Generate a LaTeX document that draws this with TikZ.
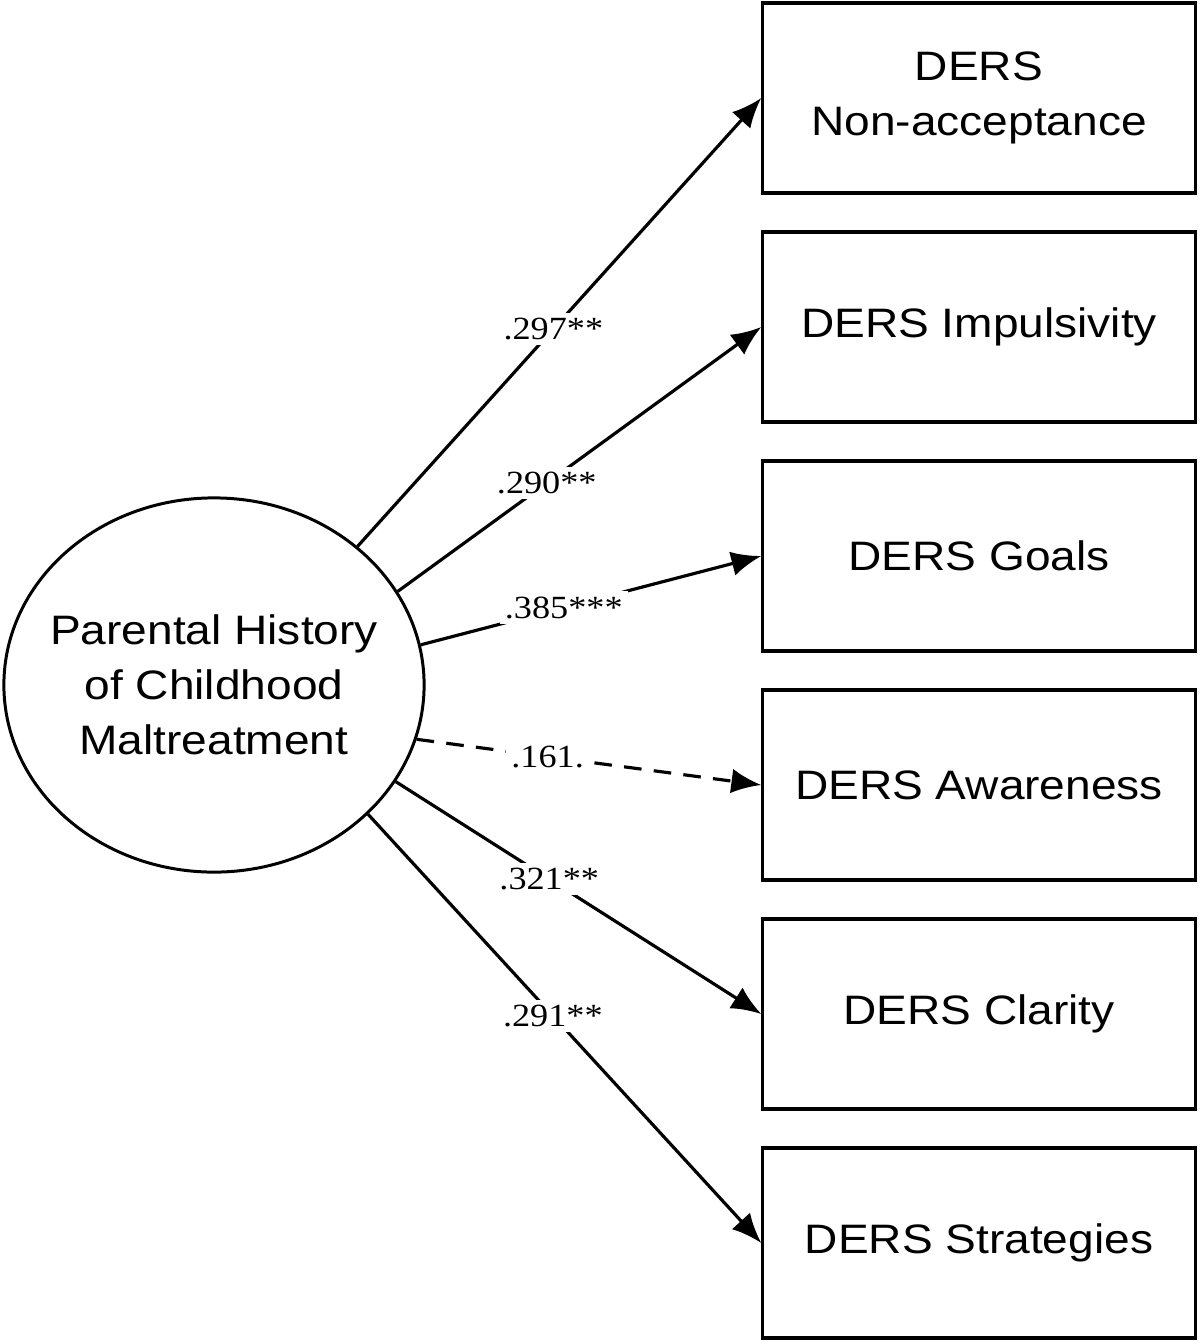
\documentclass[tikz,border=0pt]{standalone}
\usepackage{fontspec}
\setmainfont[FakeStretch=1.12]{Liberation Sans}
\newfontfamily\coeffont[FakeStretch=1.12]{Liberation Serif}
\usetikzlibrary{arrows.meta,shapes.geometric}

\begin{document}
\begin{tikzpicture}[
        x=0.01cm, y=-0.01cm,
        latent/.style={ellipse, draw=black, line width=0.85pt, minimum width=4.2cm, minimum height=3.74cm, inner sep=0pt},
        observed/.style={rectangle, draw=black, line width=0.9pt, minimum width=4.32cm, minimum height=1.9cm, inner sep=0pt, align=center, font=\fontsize{11.7}{15.6}\selectfont},
        effect/.style={line width=0.9pt, -{Latex[length=8.5pt, width=7pt]}},
        coef/.style={fill=white, inner sep=1.5pt, font=\coeffont\fontsize{9.2}{10}\selectfont},
    ]

        \useasboundingbox (0,0) rectangle (1200,1344);

        \node[latent] (ph) at (214,685) {};
        \node[align=center, font=\fontsize{11.7}{15.6}\selectfont] (phtext) at (ph.center) {Parental History\\of Childhood\\Maltreatment};

        \foreach \name/\ypos/\txt in {non/98/{DERS\\Non-acceptance}, imp/327/{DERS Impulsivity}, goal/556/{DERS Goals}, awa/785/{DERS Awareness}, cla/1014/{DERS Clarity}, str/1243/{DERS Strategies}} {
            \node[observed] (\name) at (979,\ypos) {\txt};
        }

        \draw[effect] (ph.44) -- node[coef, pos=0.485] {.297**} (non.west);
        \draw[effect] (ph.27) -- node[coef, pos=0.41] {.290**} (imp.west);
        \draw[effect] (ph.11) -- node[coef, pos=0.42] {.385***} (goal.west);
        \draw[effect, dash pattern=on 5pt off 3.5pt] (ph.-15) -- node[coef, pos=0.38] {.161.} (awa.west);
        \draw[effect] (ph.-28) -- node[coef, pos=0.42] {.321**} (cla.west);
        \draw[effect] (ph.-40) -- node[coef, pos=0.47] {.291**} (str.west);
    \end{tikzpicture}
\end{document}
